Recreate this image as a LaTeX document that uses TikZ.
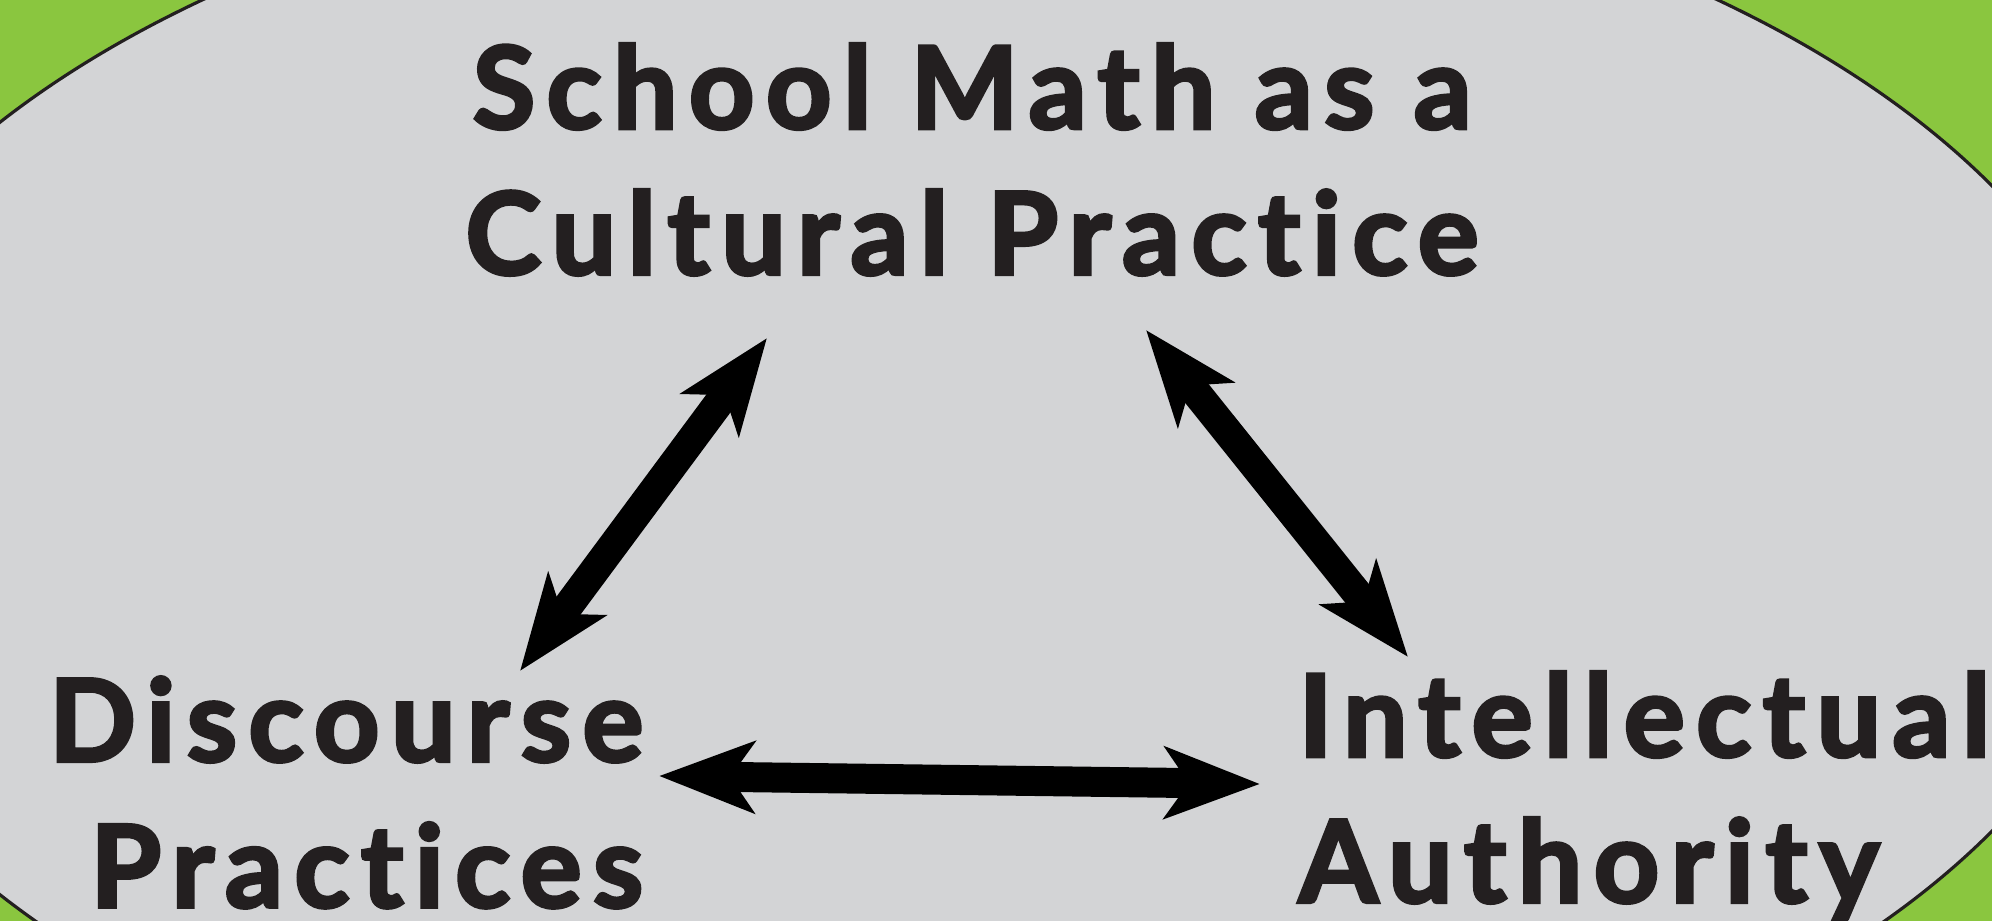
\documentclass[tikz,border=0pt]{standalone}
\usepackage{fontspec}
\setmainfont{Lato}[UprightFont=* Bold, BoldFont=* Bold, Ligatures=NoCommon,
  UprightFeatures={FakeBold=3}, LetterSpace=10]
\usetikzlibrary{positioning,arrows.meta}
\definecolor{leafgreen}{HTML}{8AC63F}
\definecolor{panelgray}{HTML}{D3D4D6}
\definecolor{inkblack}{HTML}{231F20}
\tikzset{
  twoway/.style={{Stealth[length=9.5mm, width=7.1mm, inset=2.4mm]}-{Stealth[length=9.5mm, width=7.1mm, inset=2.4mm]}, line width=3mm, black},
  bigtext/.style={font=\fontsize{32.5}{41.5}\selectfont, text=inkblack, inner sep=0pt},
  rim/.style={line width=0.9pt, draw=inkblack, fill=panelgray}
}

\begin{document}
\begin{tikzpicture}
      \useasboundingbox (0,0) rectangle (19.92,9.21);
      \fill[leafgreen] (0,0) rectangle (19.92,9.21);
      \begin{scope}
        \clip (0,0) rectangle (19.92,9.21);
        \draw[rim] (9.60,4.125) ellipse [x radius=11.81, y radius=6.63];
      \end{scope}
      % the three corners
      \node[bigtext, align=center, anchor=north] (culture) at (9.72,8.78) {School Math as a\\Cultural Practice};
      \node[bigtext, align=right, anchor=north east] (discourse) at (6.44,2.45) {Discourse\\Practices};
      \node[bigtext, align=left, anchor=north west] (authority) at (12.98,2.50) {Intellectual\\Authority};
      % arrow ends
      \coordinate (cl) at (7.67,5.83);
      \coordinate (cr) at (11.46,5.91);
      \coordinate (du) at (5.20,2.50);
      \coordinate (dr) at (6.59,1.45);
      \coordinate (au) at (14.08,2.64);
      \coordinate (al) at (12.60,1.37);
      \draw[twoway] (du) -- (cl);
      \draw[twoway] (cr) -- (au);
      \draw[twoway] (dr) -- (al);
    \end{tikzpicture}
\end{document}
